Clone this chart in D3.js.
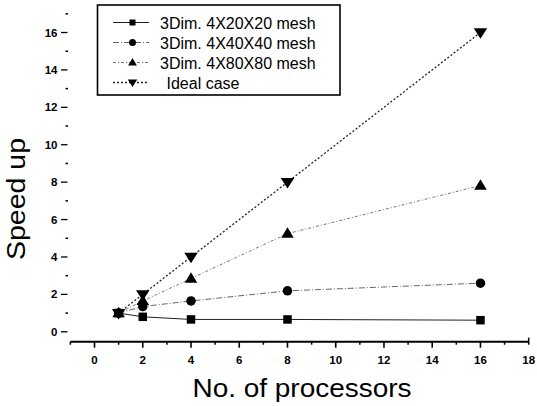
<!DOCTYPE html>
<html><head><meta charset="utf-8">
<script src="https://cdn.jsdelivr.net/npm/d3@7"></script>
<style>body{margin:0;background:#fff}svg{display:block}text{font-family:Arial,"Liberation Sans",sans-serif;fill:#000}</style>
</head><body><svg id="c" width="537" height="406"></svg>
<script>
const procs = [1, 2, 4, 8, 16];
const mesh20 = [1, 0.8, 0.66, 0.66, 0.62];
const mesh40 = [1, 1.35, 1.65, 2.19, 2.6];
const mesh80 = [1, 1.65, 2.85, 5.25, 7.82];
const ideal = [1, 2, 4, 8, 16];
const seriesNames = ["3Dim. 4X20X20 mesh", "3Dim. 4X40X40 mesh", "3Dim. 4X80X80 mesh", "Ideal case"];
const xTicks = [0, 2, 4, 6, 8, 10, 12, 14, 16, 18];
const yTicks = [0, 2, 4, 6, 8, 10, 12, 14, 16];
const xLabel = "No. of processors";
const yLabel = "Speed up";

const svg = d3.select("#c");
const x = d3.scaleLinear().domain([-1, 18]).range([70.4, 528.7]);
const y = d3.scaleLinear().domain([-0.53, 17]).range([341.7, 13.8]);

// x axis
const gx = svg.append("g").attr("transform", `translate(0,${y(-0.53)})`);
gx.append("line").attr("x1", x(-1)).attr("x2", x(18)).attr("stroke", "#000").attr("stroke-width", 2);
gx.selectAll(".mn").data(d3.range(-1, 18, 1).filter(v => v % 2 !== 0)).join("line")
  .attr("x1", d => x(d)).attr("x2", d => x(d)).attr("y1", 0).attr("y2", 3)
  .attr("stroke", "#000").attr("stroke-width", 1.5);
gx.selectAll(".mj").data(xTicks).join("line")
  .attr("x1", d => x(d)).attr("x2", d => x(d)).attr("y1", 0).attr("y2", d => d === 18 ? 3 : 6)
  .attr("stroke", "#000").attr("stroke-width", 1.6);
gx.append("line").attr("x1", x(18)).attr("x2", x(18)).attr("y1", -4).attr("y2", 0).attr("stroke", "#000").attr("stroke-width", 1.5);
gx.selectAll("text").data(xTicks).join("text")
  .attr("x", d => x(d)).attr("y", 22).attr("text-anchor", "middle")
  .attr("font-size", 11.5).attr("font-weight", "bold").text(d => d);

// y axis (ticks only)
const gy = svg.append("g");
gy.selectAll(".mj").data(yTicks).join("line")
  .attr("x1", 61).attr("x2", 67.5).attr("y1", d => y(d)).attr("y2", d => y(d))
  .attr("stroke", "#000").attr("stroke-width", 1.3);
gy.selectAll(".mn").data(d3.range(1, 18, 2)).join("line")
  .attr("x1", 65.5).attr("x2", 68).attr("y1", d => y(d)).attr("y2", d => y(d))
  .attr("stroke", "#000").attr("stroke-width", 1.5);
gy.selectAll("text").data(yTicks).join("text")
  .attr("x", 57.5).attr("y", d => y(d) + 4).attr("text-anchor", "end")
  .attr("font-size", 11.5).attr("font-weight", "bold").text(d => d);

// titles
svg.append("text").attr("x", 302).attr("y", 397).attr("text-anchor", "middle")
  .attr("font-size", 26).attr("textLength", 219).attr("lengthAdjust", "spacingAndGlyphs").text(xLabel);
svg.append("text").attr("transform", "translate(25,199) rotate(-90)").attr("text-anchor", "middle")
  .attr("font-size", 25).attr("textLength", 122).attr("lengthAdjust", "spacingAndGlyphs").text(yLabel);

function tri(w, h, down) {
  const s = down ? -1 : 1;
  return `M0,${-s * h * 0.6}L${w / 2},${s * h * 0.4}L${-w / 2},${s * h * 0.4}Z`;
}
const markers = [
  (sz) => d3.symbol(d3.symbolSquare, sz * sz)(),
  (sz) => d3.symbol(d3.symbolCircle, Math.PI * sz * sz / 4)(),
  (sz) => tri(sz * 1.25, sz * 1.05, false),
  (sz) => tri(sz * 1.35, sz * 1.05, true)
];
const styles = [
  {dash: null, color: "#222", w: 1},
  {dash: "6,2,1,2", color: "#666", w: 1},
  {dash: "3,2,1,2", color: "#777", w: 1},
  {dash: "2,2", color: "#222", w: 1.3}
];
const sizes = [8.5, 9.5, 10, 10];
const allData = [mesh20, mesh40, mesh80, ideal];

const line = d3.line().x(d => x(d[0])).y(d => y(d[1]));
allData.forEach((vals, i) => {
  const pts = procs.map((p, j) => [p, vals[j]]);
  svg.append("path").attr("d", line(pts)).attr("fill", "none")
    .attr("stroke", styles[i].color).attr("stroke-width", styles[i].w)
    .attr("stroke-dasharray", styles[i].dash);
});
allData.forEach((vals, i) => {
  svg.append("g").selectAll("path").data(procs.map((p, j) => [p, vals[j]])).join("path")
    .attr("transform", d => `translate(${x(d[0])},${y(d[1])})`)
    .attr("d", markers[i](sizes[i])).attr("fill", "#000");
});

// legend
const lg = svg.append("g");
lg.append("rect").attr("x", 97.5).attr("y", 5).attr("width", 242.5).attr("height", 90)
  .attr("fill", "#fff").attr("stroke", "#000").attr("stroke-width", 1.6);
seriesNames.forEach((name, i) => {
  const yy = 22.5 + i * 20;
  lg.append("line").attr("x1", 113).attr("x2", 149).attr("y1", yy).attr("y2", yy)
    .attr("stroke", styles[i].color).attr("stroke-width", styles[i].w).attr("stroke-dasharray", styles[i].dash);
  lg.append("path").attr("transform", `translate(132.5,${yy})`).attr("d", markers[i](i === 0 ? 6 : 7)).attr("fill", "#000");
  lg.append("text").attr("x", i === 3 ? 166.5 : 160).attr("y", yy + 6).attr("font-size", 16).text(name);
});
</script></body></html>
